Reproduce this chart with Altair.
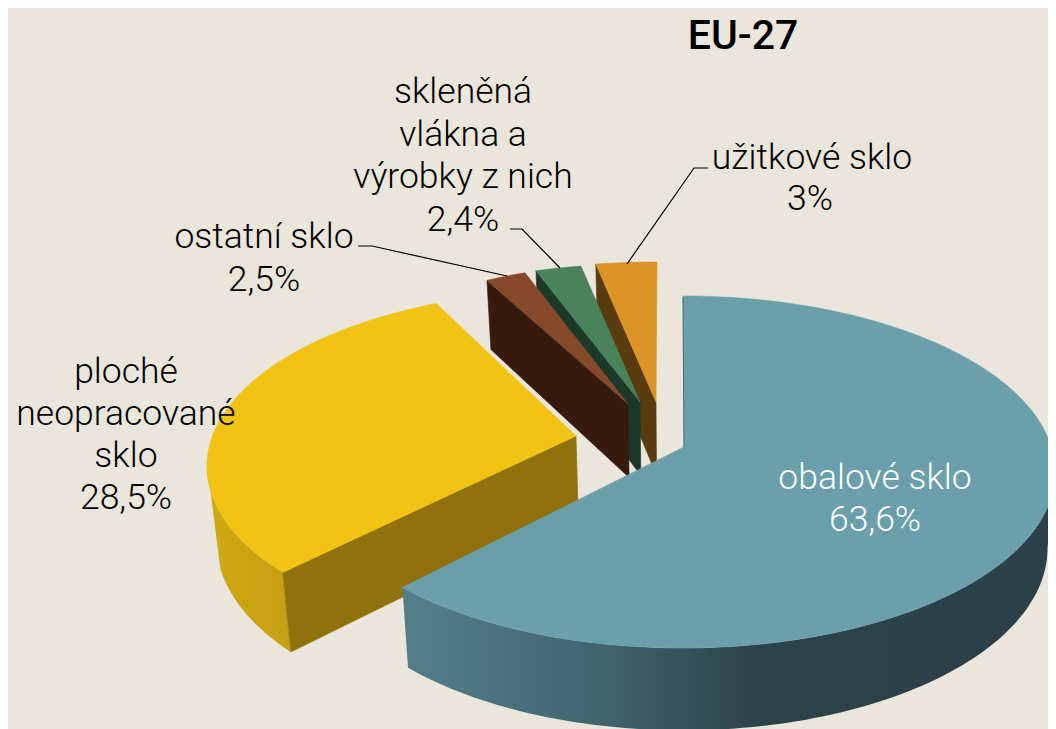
import numpy as np
import pandas as pd
import altair as alt

# ---- data ----
categories = ["obalové sklo", "ploché neopracované sklo", "ostatní sklo",
              "skleněná vlákna a výrobky z nich", "užitkové sklo"]
values = [63.6, 28.5, 2.5, 2.4, 3.0]

# label texts: text, colour
label_text = ["EU-27",
              "skleněná", "vlákna a", "výrobky z nich", "2,4%",
              "užitkové sklo", "3%",
              "ostatní sklo", "2,5%",
              "ploché", "neopracované", "sklo", "28,5%",
              "obalové sklo", "63,6%"]
label_x = [743, 463, 463, 463, 463, 812, 810, 264, 264, 126, 126, 126, 126, 875, 875]
label_y = [49, 103, 146, 188, 231, 169, 210, 248, 291, 383, 425, 467, 509, 489, 531]

BG = "#eae6dc"
FONT = "Roboto"

# ---- pie geometry (the angles come from the values) ----
edges = np.concatenate([[0], np.cumsum(values)]) / 100 * 360

# apex, rim-ellipse centre, rx, perspective k, rotation, slope
RY = 176
geom = {
    0: dict(apex=(684, 447), c=(683, 472), rx=372, k=0.0, rot=0.0, slope=1.0),
    1: dict(apex=(576, 436), c=(579, 466), rx=372, k=0.0, rot=-0.75, slope=1.02),
    2: dict(apex=(628, 404), c=(610, 442), rx=310, k=0.2, rot=0.0, slope=1.0),
    3: dict(apex=(640, 402), c=(638, 440), rx=372, k=0.2, rot=0.0, slope=1.0),
    4: dict(apex=(656, 402), c=(657, 438), rx=399, k=0.2, rot=0.0, slope=1.0),
}


def param(theta, g):
    th = np.radians(theta)
    k = g["k"]
    t = np.degrees(np.arctan2(np.sin(th) * np.sqrt(1 - k * k), np.cos(th) + k))
    t = np.where((t < 0) | (np.asarray(theta) > 180), (t + 360) % 360, t)
    return t * g["slope"] + g["rot"]


def rim(t, g):
    r = np.radians(t)
    return g["c"][0] + g["rx"] * np.sin(r), g["c"][1] - RY * np.cos(r)


def drop(x, y):
    return x + (683 - x) * 0.02, y + 59 + 0.036 * y


def poly(x, y):
    x, y = np.asarray(x, float), np.asarray(y, float)
    return pd.DataFrame({"x": np.append(x, x[0]), "y": np.append(y, y[0]),
                         "i": np.arange(len(x) + 1)})


def face(i):
    g = geom[i]
    a, b = param(np.array([edges[i], edges[i + 1]]), g)
    if i == 4:
        b = 360.0
    x, y = rim(np.linspace(a, b, 120), g)
    return poly(np.append(g["apex"][0], x), np.append(g["apex"][1], y))


def cut_wall(i, theta):
    g = geom[i]
    t = param(np.array([theta]), g)
    px, py = rim(t, g)
    qx, qy = drop(px[0], py[0])
    ax, ay = g["apex"]
    bx, by = drop(ax, ay)
    return poly([px[0], ax, bx, qx], [py[0], ay, by, qy])


def rim_wall(i, t0, t1, t1_low=None):
    x, y = rim(np.linspace(t0, t1, 120), geom[i])
    lx, ly = rim(np.linspace(t0, t1 if t1_low is None else t1_low, 120), geom[i])
    bx, by = drop(lx, ly)
    return poly(np.append(x, bx[::-1]), np.append(y, by[::-1]))


X = alt.X("x:Q", scale=alt.Scale(domain=[8, 1048]), axis=None)
Y = alt.Y("y:Q", scale=alt.Scale(domain=[729, 8]), axis=None)


def shape(df, fill, stroke=None):
    return alt.Chart(df).mark_line(
        fill=fill, stroke=stroke or (fill if isinstance(fill, str) else "#2c4047"),
        strokeWidth=0.6, interpolate="linear", clip=True
    ).encode(x=X, y=Y, order=alt.Order("i:Q"))


def grad(stops):
    return alt.LinearGradient(
        gradient="linear", x1=0, x2=1, y1=0, y2=0,
        stops=[alt.GradientStop(offset=o, color=c) for o, c in stops])


t_split = param(np.array([edges[1]]), geom[1])[0]
layers = [
    shape(cut_wall(4, edges[4]), "#583c10"), shape(face(4), "#dc9427"),
    shape(cut_wall(3, edges[3]), "#1b3829"), shape(face(3), "#4a825c"),
    shape(cut_wall(2, edges[2]), "#361a0e"), shape(face(2), "#85492a"),
    alt.Chart(rim_wall(1, t_split, 271, 262)).mark_line(
        fill=grad([(0, "#d0a812"), (0.5, "#cba412"), (1, "#c6a014")]),
        strokeOpacity=0, clip=True
    ).encode(x=X, y=Y, order=alt.Order("i:Q")),
    shape(cut_wall(1, edges[1]), "#8f720c"), shape(face(1), "#f0c315"),
    alt.Chart(rim_wall(0, 90, edges[1])).mark_line(
        fill=grad([(0, "#547f89"), (0.3, "#41656e"), (0.55, "#2c4149"), (1, "#2c4047")]),
        strokeOpacity=0, clip=True
    ).encode(x=X, y=Y, order=alt.Order("i:Q")),
    shape(face(0), "#6a9fab"),
]

# thin shaded edge where the big slice starts
edge_line = pd.DataFrame({"x": [683, 684], "y": [297, 447], "i": [0, 1]})
layers.append(alt.Chart(edge_line).mark_line(color="#4c6f78", strokeWidth=1)
              .encode(x=X, y=Y, order=alt.Order("i:Q")))

# ---- leader lines ----
leaders = [
    ([708, 694, 627], [168, 168, 264]),
    ([510, 522, 560], [229, 229, 268]),
    ([358, 372, 507], [246, 246, 276]),
]
for lx, ly in leaders:
    d = pd.DataFrame({"x": lx, "y": ly, "i": range(len(lx))})
    layers.append(alt.Chart(d).mark_line(color="#000000", strokeWidth=1.2)
                  .encode(x=X, y=Y, order=alt.Order("i:Q")))

# ---- texts ----
labels = pd.DataFrame({"x": label_x, "y": label_y, "t": label_text})
title = labels.iloc[[0]]
dark = labels.iloc[1:13]
light = labels.iloc[13:]
txt = lambda d, color, size, weight: alt.Chart(d).mark_text(
    font=FONT, fontSize=size, fontWeight=weight, color=color,
    align="center", baseline="alphabetic"
).encode(x=X, y=Y, text="t:N")
layers += [txt(title, "#000000", 41, 500),
           txt(dark, "#000000", 35.5, 300),
           txt(light, "#ffffff", 35.5, 300)]

chart = alt.layer(*layers).properties(
    width=1040, height=721, background=BG, padding=0,
    autosize=alt.AutoSizeParams(type="none")
).configure_view(stroke=None)

chart.save("out.html", embed_options={"renderer": "svg", "actions": False})
